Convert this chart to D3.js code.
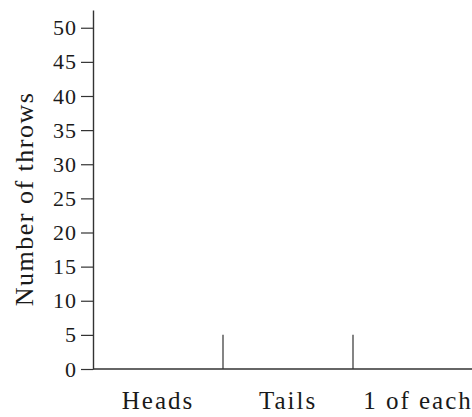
<!DOCTYPE html>
<html>
<head>
<meta charset="utf-8">
<script src="https://cdn.jsdelivr.net/npm/d3@7"></script>
<style>
  body { margin: 0; background: #fff; }
  svg { display: block; }
  text { font-family: "Liberation Serif", serif; fill: #1a1a1a; }
</style>
</head>
<body>
<div id="vis"></div>
<script>
// Chart data
const CATEGORIES = ["Heads", "Tails", "1 of each"];
const THROWS = [0, 0, 0];          // no bars drawn yet (empty chart)
const Y_TICKS = [0, 5, 10, 15, 20, 25, 30, 35, 40, 45, 50];
const SEPARATOR_VALUE = 5;         // height of the divider marks between categories
const AXIS_TOP_VALUE = 52.6;       // the y axis line runs a little past 50

// Frame dimensions
const FRAME_HEIGHT = 417;
const FRAME_WIDTH = 472;
const MARGINS = {left: 93, right: 0, top: 10, bottom: 48};
const VIS_HEIGHT = FRAME_HEIGHT - MARGINS.top - MARGINS.bottom;
const BAND_WIDTH = 130;

const FRAME = d3.select("#vis")
    .append("svg")
      .attr("height", FRAME_HEIGHT)
      .attr("width", FRAME_WIDTH);

// Scales
const Y_SCALE = d3.scaleLinear()
    .domain([0, AXIS_TOP_VALUE])
    .range([VIS_HEIGHT + MARGINS.top, MARGINS.top]);

const X_SCALE = d3.scaleBand()
    .domain(CATEGORIES)
    .range([MARGINS.left, MARGINS.left + BAND_WIDTH * CATEGORIES.length])
    .padding(0);

// Y axis
const yAxis = FRAME.append("g")
    .attr("transform", "translate(" + MARGINS.left + ",0)")
    .call(d3.axisLeft(Y_SCALE).tickValues(Y_TICKS).tickSize(12).tickPadding(4).tickSizeOuter(0));
yAxis.select(".domain").attr("stroke", "#333").attr("stroke-width", 1.4);
yAxis.selectAll(".tick line").attr("stroke", "#333").attr("stroke-width", 1.2);
yAxis.selectAll(".tick text")
    .attr("font-family", "Liberation Serif")
    .style("font-size", "22px")
    .style("letter-spacing", "1px")
    .attr("fill", "#1a1a1a");

// X axis line
FRAME.append("line")
    .attr("x1", MARGINS.left)
    .attr("x2", FRAME_WIDTH)
    .attr("y1", Y_SCALE(0))
    .attr("y2", Y_SCALE(0))
    .attr("stroke", "#333")
    .attr("stroke-width", 1.4);

// Dividers between categories
FRAME.selectAll(".divider")
    .data(CATEGORIES.slice(1))
    .enter()
    .append("line")
      .attr("class", "divider")
      .attr("x1", (d) => { return X_SCALE(d); })
      .attr("x2", (d) => { return X_SCALE(d); })
      .attr("y1", Y_SCALE(0))
      .attr("y2", Y_SCALE(SEPARATOR_VALUE))
      .attr("stroke", "#333")
      .attr("stroke-width", 1.2);

// Bars (all zero)
FRAME.selectAll(".bar")
    .data(THROWS)
    .enter()
    .append("rect")
      .attr("class", "bar")
      .attr("x", (d, i) => { return X_SCALE(CATEGORIES[i]) + 20; })
      .attr("width", X_SCALE.bandwidth() - 40)
      .attr("y", (d) => { return Y_SCALE(d); })
      .attr("height", (d) => { return Y_SCALE(0) - Y_SCALE(d); })
      .attr("fill", "#888");

// Category labels
FRAME.selectAll(".cat")
    .data(CATEGORIES)
    .enter()
    .append("text")
      .attr("class", "cat")
      .attr("x", (d) => { return X_SCALE(d) + X_SCALE.bandwidth() / 2; })
      .attr("y", Y_SCALE(0) + 40)
      .attr("text-anchor", "middle")
      .style("font-size", "25px")
      .style("letter-spacing", "2px")
      .text((d) => { return d; });

// Y axis title
FRAME.append("text")
    .attr("transform", "translate(33," + (Y_SCALE(0) - 170) + ") rotate(-90)")
    .attr("text-anchor", "middle")
    .style("font-size", "26px")
    .style("letter-spacing", "1.5px")
    .text("Number of throws");
</script>
</body>
</html>
